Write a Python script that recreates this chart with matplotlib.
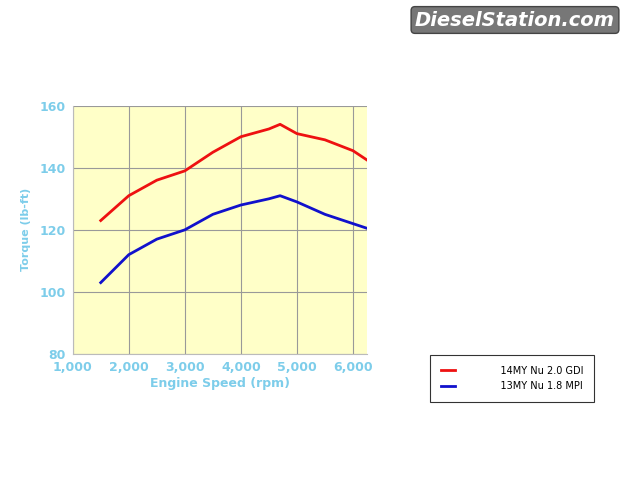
import matplotlib
matplotlib.use("Agg")
import matplotlib.pyplot as plt
from matplotlib.lines import Line2D

rpm = [1500, 2000, 2500, 3000, 3500, 4000, 4500, 4700, 5000, 5500, 6000, 6250]
gdi = [123, 131, 136, 139, 145, 150, 152.5, 154, 151, 149, 145.5, 142.5]
mpi = [103, 112, 117, 120, 125, 128, 130, 131, 129, 125, 122, 120.5]
xticks = [1000, 2000, 3000, 4000, 5000, 6000]
yticks = [80, 100, 120, 140, 160]
names = ["14MY Nu 2.0 GDI", "13MY Nu 1.8 MPI"]

W, H = 640, 480
fig = plt.figure(figsize=(6.4, 4.8), dpi=100)
ax = fig.add_axes([72.7/W, 1-354/H, (367-72.7)/W, (354-105.7)/H])
ax.set_facecolor("#ffffc8")
ax.plot(rpm, gdi, color="#ee1111", lw=2)
ax.plot(rpm, mpi, color="#1111cc", lw=2)
ax.set_xlim(1000, 6250)
ax.set_ylim(80, 160)
ax.set_xticks(xticks)
ax.set_xticklabels([f"{v:,}" for v in xticks])
ax.set_yticks(yticks)
ax.grid(True, color="#999999", lw=0.8)
for s in ["top", "right"]:
    ax.spines[s].set_visible(False)
for s in ["left", "bottom"]:
    ax.spines[s].set_color("#bbbbbb")
tc = "#7dcdea"
ax.tick_params(length=0, colors=tc, labelsize=9, pad=5)
for t in ax.get_xticklabels() + ax.get_yticklabels():
    t.set_fontweight("bold")
ax.set_xlabel("Engine Speed (rpm)", color=tc, fontsize=9, fontweight="bold", labelpad=2)
ax.set_ylabel("Torque (lb-ft)", color=tc, fontsize=8, fontweight="bold", labelpad=6)

handles = [Line2D([], [], color="#ee1111", lw=2), Line2D([], [], color="#1111cc", lw=2)]
leg = fig.legend(handles, ["            " + n for n in names], loc="upper left",
                 bbox_to_anchor=(425/W, 1-350/H), fontsize=7, frameon=True,
                 fancybox=False, edgecolor="black", handlelength=1.5, borderpad=1.1,
                 labelspacing=0.6)
leg.get_frame().set_linewidth(0.8)

fig.text(515/W, 1-20/H, "DieselStation.com", ha="center", va="center", fontsize=14,
         fontweight="bold", fontstyle="italic", color="white",
         bbox=dict(facecolor="#777777", edgecolor="#444444", boxstyle="round,pad=0.2"))
fig.savefig("out.png", dpi=100)
